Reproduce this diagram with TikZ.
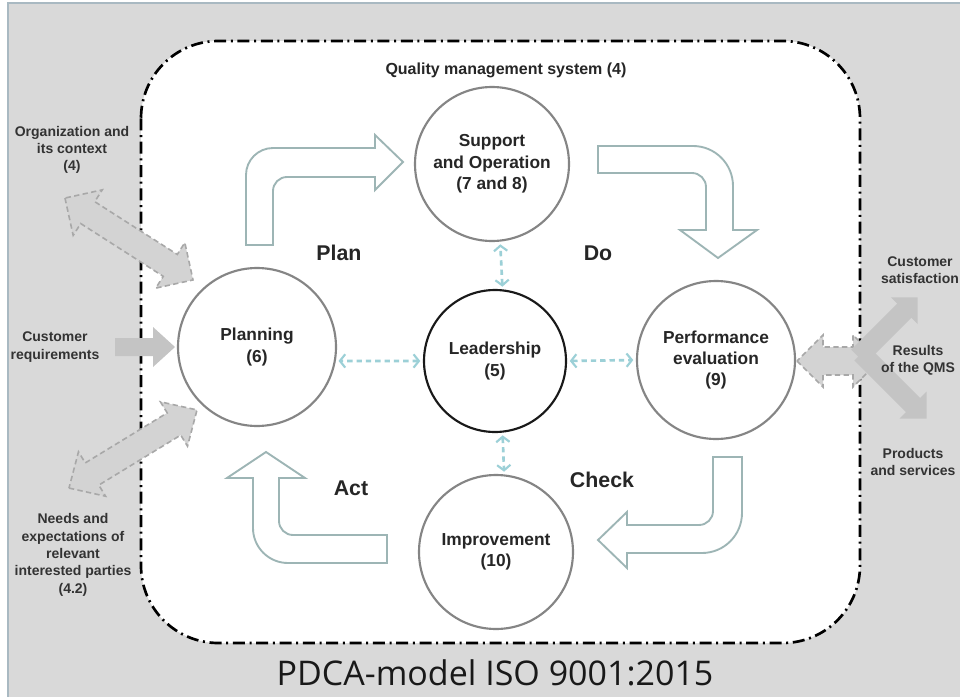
\documentclass[tikz,border=0pt]{standalone}
\usepackage{fontspec}
\setmainfont{Liberation Sans}
\newfontfamily\titlefont{Open Sans}
\usetikzlibrary{arrows.meta}

\definecolor{panelgray}{HTML}{D9D9D9}
\definecolor{frameblue}{HTML}{A9B9C2}
\definecolor{flowteal}{HTML}{9DB5B5}
\definecolor{linkcyan}{HTML}{9CD0D7}
\definecolor{ringgray}{HTML}{858585}
\definecolor{fatfill}{HTML}{D3D3D3}
\definecolor{fatline}{HTML}{A8A8A8}
\definecolor{solidfill}{HTML}{C4C4C4}

\tikzset{
  stage/.style={circle, draw=ringgray, line width=1.6pt, fill=white, inner sep=0pt,
    align=center, font=\fontsize{13}{16}\selectfont\bfseries, text=black!85},
  blockarrow/.style={draw=flowteal, line width=1.4pt, fill=white, line join=miter},
  link/.style={linkcyan, line width=2pt, dash pattern=on 4pt off 3pt,
    >={Straight Barb[length=4pt, width=10pt, line width=1.6pt]}, <->,
    shorten <=2pt, shorten >=2pt},
  fatarrow/.style={fill=fatfill, draw=fatline, line width=1.2pt, dash pattern=on 4pt off 2.5pt},
  solidarrow/.style={fill=solidfill, draw=none},
  sidetext/.style={align=center, font=\fontsize{10.5}{13}\selectfont\bfseries, text=black!80},
  phase/.style={font=\fontsize{16}{19}\selectfont\bfseries, text=black!85},
}

\begin{document}
\begin{tikzpicture}[x=0.75pt, y=-0.75pt]
    \useasboundingbox (0,0) rectangle (960,696);
    \clip (0,0) rectangle (960,696);

    % Panel
    \fill[white] (0,0) rectangle (960,696);
    \draw[fill=panelgray, draw=frameblue, line width=0.8pt] (8,3) rectangle (970,705);

    % Quality management system boundary
    \draw[line width=2pt, fill=white, rounded corners=58pt,
      dash pattern=on 9pt off 3.5pt on 1.5pt off 3.5pt] (141,41) rectangle (860,643);
    \node[font=\fontsize{12}{14}\selectfont\bfseries, text=black!85] (qms) at (506,70) {Quality management system (4)};

    % Inputs on the left
    \begin{scope}[shift={(129,239)}, rotate=-32.6]
      \draw[fatarrow] (-76,0) -- (-49,27) -- (-49,13) -- (49,13) -- (49,27) -- (76,0)
        -- (49,-27) -- (49,-13) -- (-49,-13) -- (-49,-27) -- cycle;
    \end{scope}
    \begin{scope}[shift={(133,449)}, rotate=31.4]
      \draw[fatarrow] (-75,0) -- (-48,26) -- (-48,13) -- (48,13) -- (48,26) -- (75,0)
        -- (48,-26) -- (48,-13) -- (-48,-13) -- (-48,-26) -- cycle;
    \end{scope}
    \begin{scope}[shift={(145,347)}]
      \fill[solidarrow] (-30,-9) -- (8,-9) -- (8,-20) -- (30,0) -- (8,20) -- (8,9) -- (-30,9) -- cycle;
    \end{scope}
    \node[sidetext] (orgtxt) at (72,150) {Organization and\\its context\\(4)};
    \node[sidetext] (reqtxt) at (55,347) {Customer\\requirements};
    \node[sidetext] (needtxt) at (73,555) {Needs and\\expectations of\\relevant\\interested parties\\(4.2)};

    % Outputs on the right
    \begin{scope}[shift={(838,361)}]
      \draw[fatarrow] (-41,0) -- (-15,26) -- (-15,14) -- (15,14) -- (15,26) -- (41,0)
        -- (15,-26) -- (15,-14) -- (-15,-14) -- (-15,-26) -- cycle;
    \end{scope}
    \begin{scope}[shift={(888,327)}, rotate=45]
      \fill[solidarrow] (-42,-10) -- (23,-10) -- (23,-19) -- (42,0) -- (23,19) -- (23,10) -- (-42,10) -- cycle;
    \end{scope}
    \begin{scope}[shift={(894,386)}, rotate=-45]
      \fill[solidarrow] (-46,-10) -- (27,-10) -- (27,-19) -- (46,0) -- (27,19) -- (27,10) -- (-46,10) -- cycle;
    \end{scope}
    \node[sidetext] (sattxt) at (920,270) {Customer\\satisfaction};
    \node[sidetext] (restxt) at (918,360) {Results\\of the QMS};
    \node[sidetext] (prodtxt) at (913,462) {Products\\and services};

    % PDCA flow
    \draw[blockarrow] (246,245) -- (246,175) arc[start angle=180, end angle=270, radius=27]
      -- (375,148) -- (375,135) -- (403,162) -- (375,190) -- (375,177)
      -- (287,177) arc[start angle=270, end angle=180, radius=14] -- (273,245) -- cycle;
    \draw[blockarrow] (598,146) -- (693,146) arc[start angle=270, end angle=360, radius=40]
      -- (733,230) -- (757,230) -- (718,258) -- (680,230) -- (706,230)
      -- (706,187) arc[start angle=0, end angle=-90, radius=14] -- (598,173) -- cycle;
    \draw[blockarrow] (713,457) -- (742,457) -- (742,513) arc[start angle=0, end angle=90, radius=40]
      -- (627,553) -- (627,568) -- (598,540) -- (627,512) -- (627,525)
      -- (699,525) arc[start angle=90, end angle=0, radius=14] -- cycle;
    \draw[blockarrow] (387,535) -- (387,563) -- (288,563) arc[start angle=90, end angle=180, radius=35]
      -- (253,478) -- (227,478) -- (266,452) -- (305,478) -- (279,478)
      -- (279,521) arc[start angle=180, end angle=90, radius=14] -- cycle;
    \node[phase] (plantxt) at (339,253) {Plan};
    \node[phase] (dotxt) at (598,253) {Do};
    \node[phase] (checktxt) at (602,480) {Check};
    \node[phase] (acttxt) at (351,488) {Act};

    % Stages
    \node[stage, minimum size=115.5pt] (supp) at (492,164) {Support\\and Operation\\(7 and 8)};
    \node[stage, minimum size=118.5pt] (plan) at (257,347) {Planning\\(6)};
    \node[stage, minimum size=106.5pt, draw=black!90] (lead) at (495,361) {Leadership\\(5)};
    \node[stage, minimum size=118.5pt] (perf) at (716,360) {Performance\\evaluation\\(9)};
    \node[stage, minimum size=115.5pt] (impr) at (496,552) {Improvement\\(10)};

    % Leadership links
    \draw[link] (lead.west) -- (plan.-10);
    \draw[link] (lead.east) -- (perf.west);
    \draw[link] (lead.84) -- (supp.-84);
    \draw[link] (lead.-84) -- (impr.84);

    % Title
    \node[font=\titlefont\fontsize{25.5}{30}\selectfont, text=black!90, anchor=base] (title) at (495,685) {PDCA-model ISO 9001:2015};
\end{tikzpicture}
\end{document}
